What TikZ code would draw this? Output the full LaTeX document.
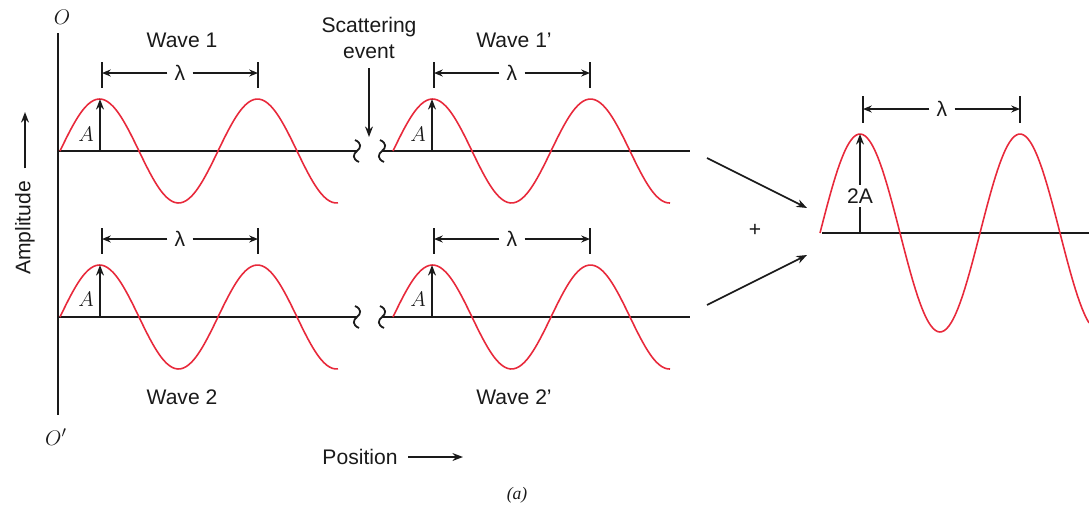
\documentclass[tikz,border=0pt]{standalone}
\usepackage{fontspec}
\setmainfont{Liberation Sans}
\newfontfamily\capfont{Liberation Serif}
\usetikzlibrary{arrows.meta, positioning, calc}
\definecolor{wavered}{HTML}{E8293B}
\definecolor{inkblack}{HTML}{1A1A1A}

\begin{document}
\begin{tikzpicture}[
    x=0.2mm, y=-0.2mm,
    axisline/.style={draw=inkblack, line width=1.1pt},
    redwave/.style={draw=wavered, line width=0.9pt, smooth},
    txt/.style={font=\fontsize{12pt}{15pt}\selectfont, text=inkblack, inner sep=1pt},
    amparrow/.style={draw=inkblack, line width=1pt, -{Stealth[length=6pt, width=4.5pt]}},
    dimline/.style={draw=inkblack, line width=0.9pt, -{Stealth[length=5pt, width=4pt]}},
    tickline/.style={draw=inkblack, line width=1.1pt},
    brk/.pic={\draw[line width=1pt, draw=inkblack] (-2,-11) .. controls (5,-8) and (4,-3) .. (0,0) .. controls (-4,3) and (-5,8) .. (2,11);},
]

% Frame
\useasboundingbox (0,0) rectangle (1089,511);
\fill[white] (0,0) rectangle (1089,511);

% Vertical axis O -- O'
\coordinate (otop) at (58,33);
\coordinate (obot) at (58,415);
\draw[axisline] (otop) -- (obot);
\node[txt, font=\fontsize{13pt}{15pt}\selectfont] (olab) at (62,17) {$O$};
\node[txt, font=\fontsize{13pt}{15pt}\selectfont] (oplab) at (56,437) {$O'$};

% Amplitude label
\node[txt, rotate=90] (amplab) at (25,228) {Amplitude};
\coordinate (amptip) at (25,112);
\draw[amparrow, shorten <=6pt] (amplab) -- (amptip);

% Wave 1
\coordinate (ax1a) at (58,151);
\coordinate (ax1b) at (357,151);
\draw[axisline] (ax1a) -- (ax1b);
\pic at (ax1b) {brk};
\draw[redwave] plot[domain=60:338, samples=100] (\x, {151-52*sin(2.2785*(\x-60))});
\coordinate (a1base) at (100,151);
\coordinate (a1top) at (100,99);
\draw[amparrow] (a1base) -- (a1top);
\node[txt] (a1lab) at (86,134) {$A$};
\node[txt] (w1lab) at (182,40) {Wave 1};
\node[txt, inner sep=4pt] (lam1) at (180,73) {λ};
\coordinate (lam1l) at (102,73);
\coordinate (lam1r) at (258,73);
\draw[tickline] (lam1l) ++(0,-11) -- ++(0,26);
\draw[tickline] (lam1r) ++(0,-11) -- ++(0,26);
\draw[dimline] (lam1) -- (lam1l);
\draw[dimline] (lam1) -- (lam1r);

% Scattering event
\node[txt, align=center] (scat) at (369,38) {Scattering\\event};
\coordinate (scatend) at (369,137);
\draw[amparrow, shorten <=4pt] (scat) -- (scatend);

% Wave 1'
\coordinate (ax2a) at (382,151);
\coordinate (ax2b) at (690,151);
\draw[axisline] (ax2a) -- (ax2b);
\pic at (ax2a) {brk};
\draw[redwave] plot[domain=393:670, samples=100] (\x, {151-52*sin(2.2785*(\x-393))});
\coordinate (a2base) at (432,151);
\coordinate (a2top) at (432,99);
\draw[amparrow] (a2base) -- (a2top);
\node[txt] (a2lab) at (418,134) {$A$};
\node[txt] (w2lab) at (514,40) {Wave 1'};
\node[txt, inner sep=4pt] (lam2) at (512,73) {λ};
\coordinate (lam2l) at (434,73);
\coordinate (lam2r) at (590,73);
\draw[tickline] (lam2l) ++(0,-11) -- ++(0,26);
\draw[tickline] (lam2r) ++(0,-11) -- ++(0,26);
\draw[dimline] (lam2) -- (lam2l);
\draw[dimline] (lam2) -- (lam2r);

% Wave 2
\coordinate (ax3a) at (58,317);
\coordinate (ax3b) at (357,317);
\draw[axisline] (ax3a) -- (ax3b);
\pic at (ax3b) {brk};
\draw[redwave] plot[domain=60:338, samples=100] (\x, {317-52*sin(2.2785*(\x-60))});
\coordinate (a3base) at (100,317);
\coordinate (a3top) at (100,265);
\draw[amparrow] (a3base) -- (a3top);
\node[txt] (a3lab) at (86,299) {$A$};
\node[txt] (w3lab) at (182,397) {Wave 2};
\node[txt, inner sep=4pt] (lam3) at (180,239) {λ};
\coordinate (lam3l) at (102,239);
\coordinate (lam3r) at (258,239);
\draw[tickline] (lam3l) ++(0,-11) -- ++(0,26);
\draw[tickline] (lam3r) ++(0,-11) -- ++(0,26);
\draw[dimline] (lam3) -- (lam3l);
\draw[dimline] (lam3) -- (lam3r);

% Wave 2'
\coordinate (ax4a) at (382,317);
\coordinate (ax4b) at (690,317);
\draw[axisline] (ax4a) -- (ax4b);
\pic at (ax4a) {brk};
\draw[redwave] plot[domain=393:670, samples=100] (\x, {317-52*sin(2.2785*(\x-393))});
\coordinate (a4base) at (432,317);
\coordinate (a4top) at (432,265);
\draw[amparrow] (a4base) -- (a4top);
\node[txt] (a4lab) at (418,299) {$A$};
\node[txt] (w4lab) at (514,397) {Wave 2'};
\node[txt, inner sep=4pt] (lam4) at (512,239) {λ};
\coordinate (lam4l) at (434,239);
\coordinate (lam4r) at (590,239);
\draw[tickline] (lam4l) ++(0,-11) -- ++(0,26);
\draw[tickline] (lam4r) ++(0,-11) -- ++(0,26);
\draw[dimline] (lam4) -- (lam4l);
\draw[dimline] (lam4) -- (lam4r);

% Sum of the two scattered waves
\coordinate (in1s) at (707,158);
\coordinate (in1e) at (807,208);
\coordinate (in2s) at (707,305);
\coordinate (in2e) at (807,255);
\draw[amparrow] (in1s) -- (in1e);
\draw[amparrow] (in2s) -- (in2e);
\node[txt] (plus) at (755,230) {+};

% Resulting wave
\coordinate (ax5a) at (822,233);
\coordinate (ax5b) at (1089,233);
\draw[axisline] (ax5a) -- (ax5b);
\draw[redwave] plot[domain=820:1089, samples=120] (\x, {233-99*sin(2.25*(\x-820))});
\coordinate (a5base) at (860,233);
\coordinate (a5top) at (860,134);
\draw[amparrow] (a5base) -- (a5top);
\node[txt, fill=white, inner sep=2pt] (a5lab) at (860,196) {2A};
\node[txt, inner sep=4pt] (lam5) at (942,109) {λ};
\coordinate (lam5l) at (863,109);
\coordinate (lam5r) at (1020,109);
\draw[tickline] (lam5l) ++(0,-13) -- ++(0,27);
\draw[tickline] (lam5r) ++(0,-13) -- ++(0,27);
\draw[dimline] (lam5) -- (lam5l);
\draw[dimline] (lam5) -- (lam5r);

% Position axis and caption
\node[txt] (poslab) at (360,457) {Position};
\coordinate (postip) at (463,457);
\draw[amparrow, shorten <=5pt] (poslab) -- (postip);
\node[txt, font=\capfont\itshape\fontsize{10pt}{12pt}\selectfont] (caption) at (517,495) {(a)};

\end{tikzpicture}
\end{document}
